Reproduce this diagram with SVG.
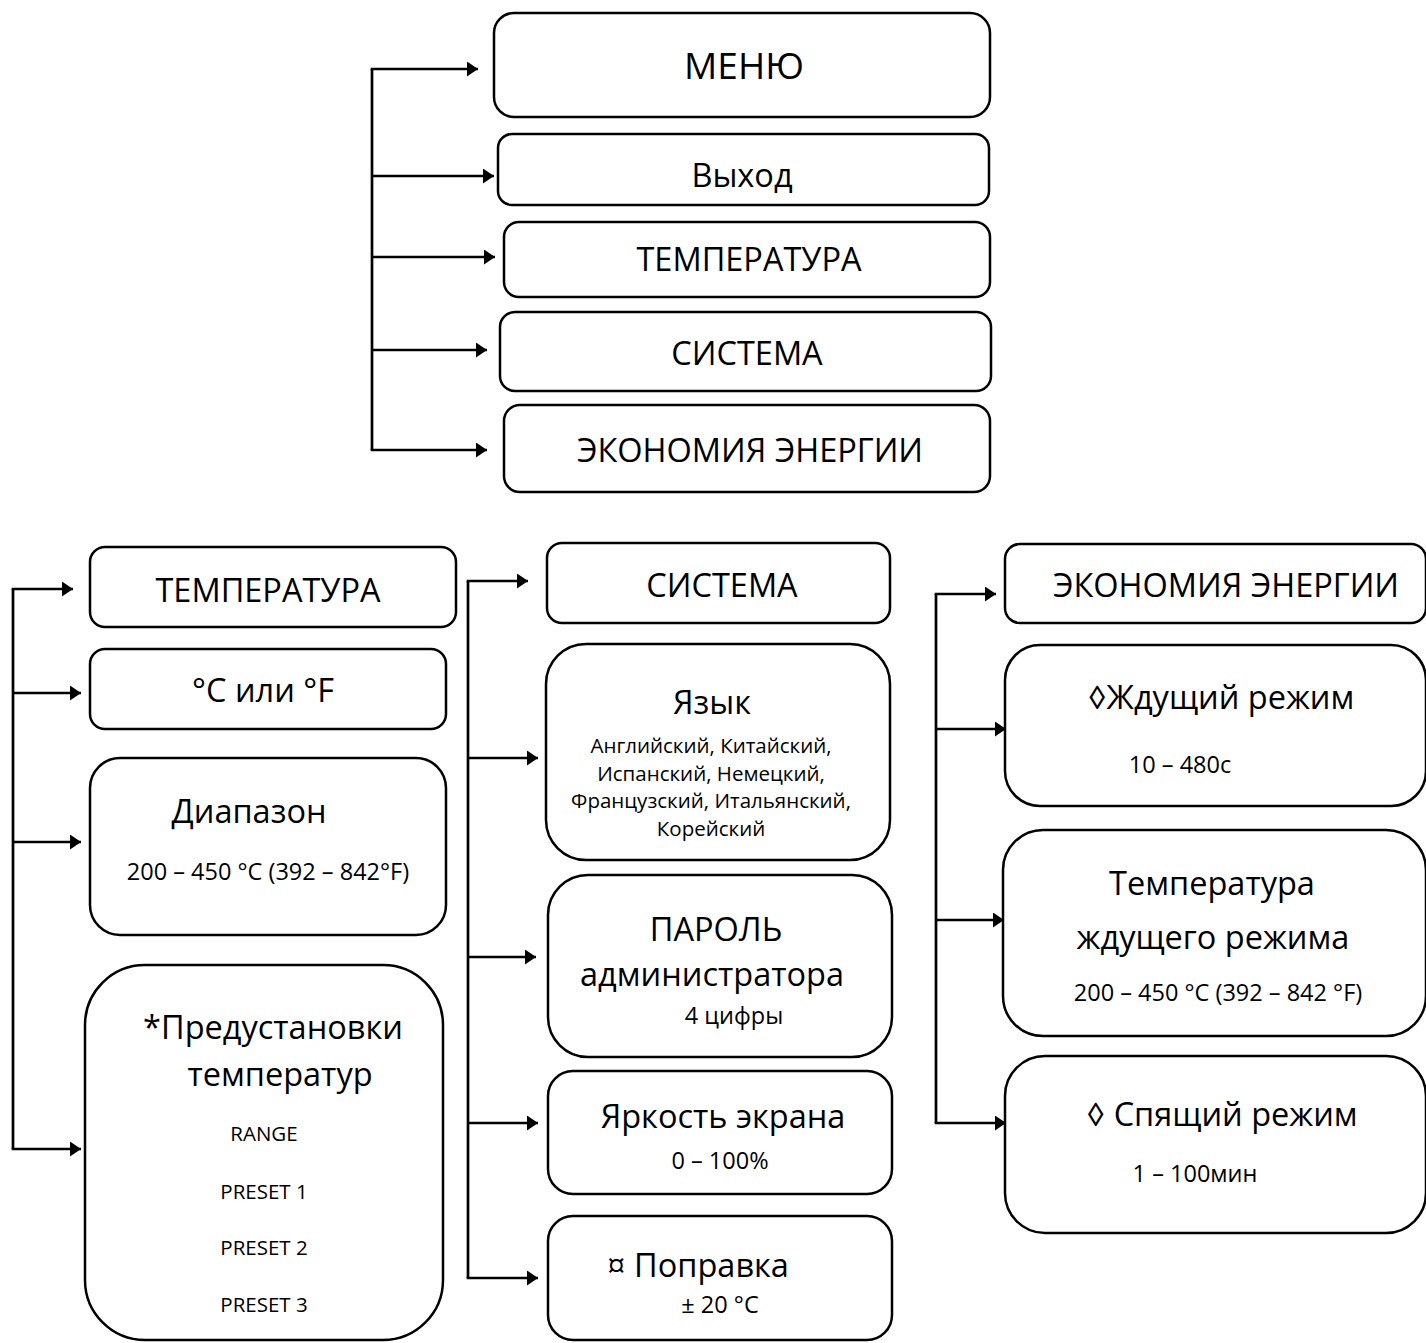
<svg xmlns="http://www.w3.org/2000/svg" width="1426" height="1343" viewBox="0 0 1426 1343">
<style>
.box{fill:#fff;stroke:#000;stroke-width:2.5}
.ln{fill:none;stroke:#000;stroke-width:2.7}
text{font-family:"Open Sans","Noto Sans",sans-serif;fill:#000;text-anchor:middle}
.big{font-size:32.5px}
.h{font-size:37px}
.sm{font-size:20.5px}
.md{font-size:23.5px}
</style>
<defs>
<marker id="arr" markerUnits="userSpaceOnUse" markerWidth="12" markerHeight="16" refX="11" refY="7.5" orient="auto">
<path d="M0,0 L11,7.5 L0,15 z" fill="#000"/>
</marker>
</defs>
<rect width="1426" height="1343" fill="#fff"/>
<g id="connectors">
<path class="ln" d="M372,69 V450"/>
<path class="ln" d="M370.7,69 H478" marker-end="url(#arr)"/>
<path class="ln" d="M372,176 H494" marker-end="url(#arr)"/>
<path class="ln" d="M372,257 H495" marker-end="url(#arr)"/>
<path class="ln" d="M372,350 H487" marker-end="url(#arr)"/>
<path class="ln" d="M370.7,450 H487" marker-end="url(#arr)"/>
<path class="ln" d="M13,589 V1149"/>
<path class="ln" d="M11.7,589 H73" marker-end="url(#arr)"/>
<path class="ln" d="M13,693 H81" marker-end="url(#arr)"/>
<path class="ln" d="M13,842 H81" marker-end="url(#arr)"/>
<path class="ln" d="M11.7,1149 H81" marker-end="url(#arr)"/>
<path class="ln" d="M468,581 V1278"/>
<path class="ln" d="M466.7,581 H528" marker-end="url(#arr)"/>
<path class="ln" d="M468,758 H538" marker-end="url(#arr)"/>
<path class="ln" d="M468,957 H536" marker-end="url(#arr)"/>
<path class="ln" d="M468,1123 H538" marker-end="url(#arr)"/>
<path class="ln" d="M466.7,1278 H538" marker-end="url(#arr)"/>
<path class="ln" d="M936,594 V1123"/>
<path class="ln" d="M934.7,594 H996" marker-end="url(#arr)"/>
<path class="ln" d="M936,729 H1006" marker-end="url(#arr)"/>
<path class="ln" d="M936,920 H1004" marker-end="url(#arr)"/>
<path class="ln" d="M934.7,1123 H1006" marker-end="url(#arr)"/>
</g>
<g id="menu"><rect class="box" x="494" y="13" width="496" height="104" rx="20"/><text class="h" x="744" y="79">МЕНЮ</text></g>
<g id="exit"><rect class="box" x="498" y="134" width="491" height="71" rx="14"/><text class="big" x="742" y="187">Выход</text></g>
<g id="temp-top"><rect class="box" x="504" y="222" width="486" height="75" rx="15"/><text class="big" x="749" y="271">ТЕМПЕРАТУРА</text></g>
<g id="sys-top"><rect class="box" x="500" y="312" width="491" height="79" rx="15"/><text class="big" x="747" y="365">СИСТЕМА</text></g>
<g id="eco-top"><rect class="box" x="504" y="405" width="486" height="87" rx="16"/><text class="big" x="750" y="462">ЭКОНОМИЯ ЭНЕРГИИ</text></g>

<g id="temp"><rect class="box" x="90" y="547" width="366" height="80" rx="15"/><text class="big" x="268" y="602">ТЕМПЕРАТУРА</text></g>
<g id="unit"><rect class="box" x="90" y="649" width="356" height="80" rx="15"/><text class="big" x="263" y="702">°C или °F</text></g>
<g id="range"><rect class="box" x="90" y="758" width="356" height="177" rx="30"/><text class="big" x="249" y="823">Диапазон</text><text class="md" x="268" y="880">200 – 450 °C (392 – 842°F)</text></g>
<g id="presets"><rect class="box" x="85" y="965" width="358" height="375" rx="60"/><text class="big" x="273" y="1039">*Предустановки</text><text class="big" x="280" y="1086">температур</text><text class="sm" x="264" y="1141">RANGE</text><text class="sm" x="264" y="1199">PRESET 1</text><text class="sm" x="264" y="1255">PRESET 2</text><text class="sm" x="264" y="1312">PRESET 3</text></g>

<g id="sys"><rect class="box" x="547" y="543" width="343" height="80" rx="15"/><text class="big" x="722" y="597">СИСТЕМА</text></g>
<g id="lang"><rect class="box" x="546" y="644" width="344" height="216" rx="40"/><text class="big" x="712" y="714">Язык</text><text class="sm" x="711" y="753">Английский, Китайский,</text><text class="sm" x="711" y="780.5">Испанский, Немецкий,</text><text class="sm" x="711" y="808">Французский, Итальянский,</text><text class="sm" x="711" y="835.5">Корейский</text></g>
<g id="pass"><rect class="box" x="548" y="875" width="344" height="182" rx="40"/><text class="big" x="716" y="941">ПАРОЛЬ</text><text class="big" x="712" y="986">администратора</text><text class="md" x="734" y="1024">4 цифры</text></g>
<g id="bright"><rect class="box" x="548" y="1071" width="344" height="123" rx="25"/><text class="big" x="723" y="1128">Яркость экрана</text><text class="md" x="720" y="1169">0 – 100%</text></g>
<g id="offset"><rect class="box" x="548" y="1216" width="344" height="124" rx="25"/><text class="big" x="698" y="1277">¤ Поправка</text><text class="md" x="720" y="1313">± 20 °C</text></g>

<g id="eco"><rect class="box" x="1005" y="544" width="421" height="79" rx="15"/><text class="big" x="1226" y="597">ЭКОНОМИЯ ЭНЕРГИИ</text></g>
<g id="standby"><rect class="box" x="1005" y="645" width="421" height="161" rx="35"/><text class="big" x="1221" y="709">◊Ждущий режим</text><text class="md" x="1180" y="773">10 – 480с</text></g>
<g id="standby-temp"><rect class="box" x="1003" y="830" width="423" height="206" rx="40"/><text class="big" x="1212" y="895">Температура</text><text class="big" x="1213" y="949">ждущего режима</text><text class="md" x="1218" y="1001">200 – 450 °C (392 – 842 °F)</text></g>
<g id="sleep"><rect class="box" x="1005" y="1056" width="421" height="177" rx="40"/><text class="big" x="1222" y="1126">◊ Спящий режим</text><text class="md" x="1195" y="1182">1 – 100мин</text></g>
</svg>
